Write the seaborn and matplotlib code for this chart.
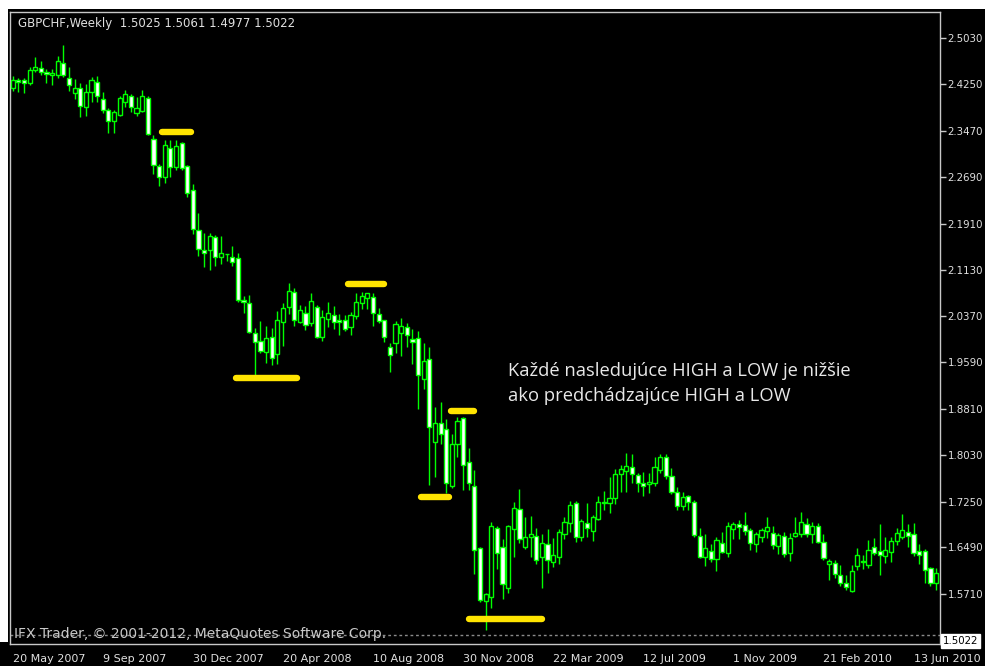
import numpy as np
import pandas as pd
import matplotlib
matplotlib.use("Agg")
import matplotlib.pyplot as plt
import seaborn as sns
from matplotlib.patches import Rectangle

# ---------------- data (weekly GBPCHF candles) ----------------
opens = [2.4186, 2.4325, 2.4325, 2.4280, 2.4493, 2.4526, 2.4459, 2.4409, 2.4409, 2.4610,
         2.4359, 2.4107, 2.4191, 2.3872, 2.4124, 2.4292, 2.4006, 2.3822, 2.3637, 2.3738,
         2.3956, 2.4057, 2.3772, 2.3805, 2.4023, 2.3336, 2.2883, 2.2698, 2.3185, 2.2866,
         2.3268, 2.2883, 2.2480, 2.1809, 2.1474, 2.1474, 2.1692, 2.1356, 2.1407, 2.1356,
         2.1340, 2.0635, 2.0585, 2.0082, 1.9947, 1.9763, 2.0015, 1.9729, 2.0266, 2.0518,
         2.0769, 2.0266, 2.0417, 2.0249, 2.0518, 2.0015, 2.0316, 2.0384, 2.0300, 2.0300,
         2.0182, 2.0367, 2.0585, 2.0669, 2.0685, 2.0400, 2.0300, 1.9847, 1.9914, 2.0082,
         2.0182, 1.9981, 1.9998, 1.9310, 1.9645, 1.8253, 1.8572, 1.8471, 1.7515, 1.8220,
         1.8656, 1.7918, 1.7515, 1.6475, 1.5586, 1.5654, 1.6811, 1.6492, 1.5805, 1.6794,
         1.7130, 1.6492, 1.6660, 1.6677, 1.6324, 1.6542, 1.6241, 1.6324, 1.6710, 1.6895,
         1.7230, 1.6660, 1.6895, 1.6761, 1.6962, 1.7247, 1.7230, 1.7314, 1.7717, 1.7767,
         1.7834, 1.7700, 1.7566, 1.7549, 1.7566, 1.7784, 1.8002, 1.7683, 1.7415, 1.7180,
         1.7348, 1.7247, 1.6677, 1.6324, 1.6425, 1.6291, 1.6559, 1.6391, 1.6794, 1.6878,
         1.6861, 1.6777, 1.6542, 1.6660, 1.6761, 1.6727, 1.6509, 1.6677, 1.6391, 1.6677,
         1.6710, 1.6878, 1.6710, 1.6844, 1.6576, 1.6207, 1.6224, 1.6022, 1.5888, 1.5754,
         1.6174, 1.6257, 1.6190, 1.6492, 1.6425, 1.6341, 1.6408, 1.6593, 1.6660, 1.6744,
         1.6710, 1.6425, 1.6425, 1.6140, 1.5888]
highs = [2.4392, 2.4364, 2.4359, 2.4543, 2.4711, 2.4644, 2.4510, 2.4510, 2.4728, 2.4912,
         2.4543, 2.4342, 2.4275, 2.4258, 2.4375, 2.4392, 2.4124, 2.3856, 2.3822, 2.4057,
         2.4158, 2.4090, 2.4040, 2.4158, 2.4057, 2.3403, 2.2916, 2.3319, 2.3319, 2.3319,
         2.3285, 2.2899, 2.2581, 2.2094, 2.1759, 2.1759, 2.1725, 2.1709, 2.1407, 2.1541,
         2.1423, 2.0702, 2.0719, 2.0165, 2.0283, 2.0199, 2.0165, 2.0451, 2.0585, 2.0920,
         2.0836, 2.0551, 2.0534, 2.0753, 2.0551, 2.0467, 2.0602, 2.0534, 2.0400, 2.0384,
         2.0434, 2.0753, 2.0769, 2.0753, 2.0753, 2.0501, 2.0300, 1.9914, 2.0283, 2.0333,
         2.0249, 2.0149, 2.0115, 1.9914, 1.9847, 1.8840, 1.8924, 1.8639, 1.8388, 1.8673,
         1.8673, 1.8153, 1.7784, 1.6492, 1.5721, 1.6912, 1.6844, 1.6626, 1.6861, 1.7247,
         1.7465, 1.6995, 1.7012, 1.6811, 1.6710, 1.6794, 1.6643, 1.6794, 1.6995, 1.7264,
         1.7264, 1.6962, 1.7230, 1.7029, 1.7348, 1.7431, 1.7666, 1.7800, 1.7868, 1.8069,
         1.8052, 1.7733, 1.7750, 1.7733, 1.8002, 1.8052, 1.8052, 1.7817, 1.7499, 1.7415,
         1.7364, 1.7281, 1.6811, 1.6710, 1.6542, 1.6660, 1.6744, 1.6912, 1.6912, 1.6945,
         1.7079, 1.6811, 1.6744, 1.6811, 1.6995, 1.6844, 1.6727, 1.6744, 1.6727, 1.6995,
         1.7079, 1.6979, 1.6912, 1.6895, 1.6710, 1.6291, 1.6274, 1.6190, 1.6022, 1.6190,
         1.6475, 1.6358, 1.6610, 1.6643, 1.6878, 1.6660, 1.6660, 1.6811, 1.7046, 1.6878,
         1.6895, 1.6542, 1.6459, 1.6157, 1.6140]
lows = [2.4146, 2.4129, 2.4107, 2.4241, 2.4459, 2.4409, 2.4275, 2.4241, 2.4359, 2.4375,
        2.4141, 2.4006, 2.3705, 2.3721, 2.3956, 2.3956, 2.3772, 2.3436, 2.3436, 2.3721,
        2.3872, 2.3788, 2.3721, 2.3788, 2.3403, 2.2749, 2.2547, 2.2598, 2.2698, 2.2816,
        2.2816, 2.2363, 2.1742, 2.1373, 2.1189, 2.1138, 2.1205, 2.1239, 2.1289, 2.1205,
        2.0602, 2.0417, 2.0082, 1.9344, 1.9746, 1.9578, 1.9545, 1.9562, 1.9864, 2.0400,
        2.0199, 2.0249, 2.0132, 2.0199, 1.9998, 1.9947, 2.0182, 2.0149, 2.0048, 2.0115,
        2.0048, 2.0316, 2.0484, 2.0484, 2.0199, 2.0249, 1.9931, 1.9427, 1.9746, 1.9696,
        1.9847, 1.9562, 1.8807, 1.9142, 1.7532, 1.7666, 1.8220, 1.7398, 1.7482, 1.8002,
        1.7448, 1.7448, 1.6039, 1.5570, 1.5100, 1.5469, 1.6123, 1.5620, 1.5721, 1.6324,
        1.6559, 1.6459, 1.6324, 1.6207, 1.5805, 1.6056, 1.6157, 1.6207, 1.6626, 1.6744,
        1.6576, 1.6593, 1.6660, 1.6593, 1.6945, 1.7113, 1.7063, 1.7213, 1.7415, 1.7415,
        1.7566, 1.7415, 1.7348, 1.7398, 1.7515, 1.7733, 1.7633, 1.7381, 1.7113, 1.7113,
        1.7113, 1.6660, 1.6310, 1.6174, 1.6241, 1.6090, 1.6391, 1.6324, 1.6626, 1.6626,
        1.6693, 1.6442, 1.6408, 1.6576, 1.6643, 1.6459, 1.6375, 1.6324, 1.6257, 1.6660,
        1.6660, 1.6660, 1.6559, 1.6559, 1.6274, 1.5939, 1.5972, 1.5838, 1.5771, 1.5737,
        1.6106, 1.6123, 1.6140, 1.6358, 1.6022, 1.6224, 1.6241, 1.6526, 1.6626, 1.6492,
        1.6341, 1.6207, 1.5888, 1.5838, 1.5771]
closes = [2.4325, 2.4287, 2.4270, 2.4493, 2.4543, 2.4459, 2.4426, 2.4443, 2.4644, 2.4409,
          2.4241, 2.4191, 2.3889, 2.4124, 2.4325, 2.4057, 2.3822, 2.3637, 2.3788, 2.4023,
          2.4090, 2.3872, 2.3856, 2.4057, 2.3419, 2.2899, 2.2698, 2.3235, 2.2866, 2.3218,
          2.2849, 2.2430, 2.1826, 2.1491, 2.1423, 2.1709, 2.1356, 2.1423, 2.1400, 2.1273,
          2.0635, 2.0602, 2.0098, 1.9931, 1.9780, 1.9998, 1.9662, 2.0300, 2.0501, 2.0786,
          2.0300, 2.0467, 2.0216, 2.0618, 2.0015, 2.0350, 2.0417, 2.0266, 2.0266, 2.0149,
          2.0384, 2.0602, 2.0702, 2.0753, 2.0417, 2.0283, 2.0015, 1.9713, 2.0233, 2.0199,
          2.0048, 1.9931, 1.9377, 1.9612, 1.8505, 1.8572, 1.8388, 1.7566, 1.8220, 1.8606,
          1.7868, 1.7566, 1.6442, 1.5603, 1.5704, 1.6844, 1.6391, 1.5872, 1.6844, 1.7146,
          1.6626, 1.6660, 1.6710, 1.6274, 1.6559, 1.6274, 1.6358, 1.6744, 1.6912, 1.7197,
          1.6660, 1.6928, 1.6811, 1.6995, 1.7247, 1.7230, 1.7314, 1.7717, 1.7800, 1.7851,
          1.7717, 1.7566, 1.7515, 1.7582, 1.7834, 1.8002, 1.7683, 1.7415, 1.7180, 1.7331,
          1.7247, 1.6693, 1.6324, 1.6475, 1.6291, 1.6610, 1.6408, 1.6844, 1.6878, 1.6828,
          1.6761, 1.6559, 1.6710, 1.6777, 1.6828, 1.6526, 1.6693, 1.6375, 1.6643, 1.6727,
          1.6912, 1.6710, 1.6844, 1.6576, 1.6308, 1.6257, 1.6039, 1.5888, 1.5821, 1.6090,
          1.6358, 1.6241, 1.6442, 1.6391, 1.6358, 1.6442, 1.6593, 1.6727, 1.6777, 1.6677,
          1.6391, 1.6358, 1.6106, 1.5888, 1.6056]

date_labels = ["20 May 2007", "9 Sep 2007", "30 Dec 2007", "20 Apr 2008", "10 Aug 2008",
               "30 Nov 2008", "22 Mar 2009", "12 Jul 2009", "1 Nov 2009", "21 Feb 2010",
               "13 Jun 2010"]
weeks_per_label = 16
price_ticks = [1.5710, 1.6490, 1.7250, 1.8030, 1.8810, 1.9590, 2.0370, 2.1130,
               2.1910, 2.2690, 2.3470, 2.4250, 2.5030]
last_price = 1.5022
header = "GBPCHF,Weekly  1.5025 1.5061 1.4977 1.5022"
copyright_txt = "IFX Trader, \u00a9 2001-2012, MetaQuotes Software Corp."
note_lines = ["Každé nasledujúce HIGH a LOW je nižšie", "ako predchádzajúce HIGH a LOW"]

# yellow hand-drawn markers: start bar, end bar, price level
mark_start = [26.6, 39.7, 59.6, 72.6, 77.8, 81.0]
mark_end = [31.6, 50.5, 66.0, 77.5, 81.9, 94.0]
mark_price = [2.3445, 1.9327, 2.0903, 1.7339, 1.8773, 1.5285]

df = pd.DataFrame({"open": opens, "high": highs, "low": lows, "close": closes})
df["bar"] = np.arange(len(df))
df["bull"] = df["close"] >= df["open"]

# ---------------- style ----------------
sns.set_theme(style="dark")
plt.rcParams["font.family"] = ["DejaVu Sans"]

W, H = 985, 666
fig = plt.figure(figsize=(W / 100, H / 100), dpi=100, facecolor="black")
ax = fig.add_axes([10 / W, 1 - 644 / H, 930 / W, 632 / H])
ax.set_facecolor("black")

LIME = "#00FF00"
GRAY = "#C8C8C8"

# wicks
ax.vlines(df["bar"], df["low"], df["high"], color=LIME, linewidth=1.0, zorder=2)
# bodies
body_bottom = np.minimum(df["open"], df["close"])
body_height = np.abs(df["close"] - df["open"])
body_height = np.maximum(body_height, 0.0004)
fills = np.where(df["bull"], "black", "white")
ax.bar(df["bar"], body_height, bottom=body_bottom, width=0.74, color=fills,
       edgecolor=LIME, linewidth=1.0, zorder=3)

# yellow markers
for s, e, p in zip(mark_start, mark_end, mark_price):
    ax.plot([s, e], [p, p], color="#FFE400", linewidth=4.6, solid_capstyle="round",
            zorder=5)

# current price dotted line
ax.axhline(last_price, color="#8A8A8A", linewidth=1.0, linestyle=(0, (2, 2)), zorder=1)

ax.set_xlim(-0.48, 164.7)
ax.set_ylim(1.4865, 2.5466)

# y axis on the right
ax.yaxis.tick_right()
ax.set_yticks(price_ticks)
ax.set_yticklabels([f"{v:.4f}" for v in price_ticks])
ax.tick_params(axis="y", which="both", direction="out", length=4, width=1,
               color=GRAY, labelcolor="#E0E0E0", labelsize=7.4, pad=1.5,
               left=False, right=True)

# x axis dates
ax.set_xticks([i * weeks_per_label for i in range(len(date_labels))])
ax.set_xticklabels(date_labels)
for lab in ax.get_xticklabels():
    lab.set_horizontalalignment("left")
ax.tick_params(axis="x", direction="out", length=5, width=1, color=GRAY,
               labelcolor="#E0E0E0", labelsize=8, pad=2)

for sp in ax.spines.values():
    sp.set_color(GRAY)
    sp.set_linewidth(1.0)
ax.grid(False)

# texts
fig.text(18 / W, 1 - 24 / H, header, color="#E0E0E0", fontsize=8.5, va="center", ha="left")
fig.text(14 / W, 1 - 634 / H, copyright_txt, color=GRAY, fontsize=10, va="center",
         ha="left", zorder=0)
ax.text(0.535, 1 - (371 - 12) / 632, note_lines[0], transform=ax.transAxes,
        color="#E8E8E8", fontsize=13.2, family=["Open Sans", "DejaVu Sans"],
        va="center", ha="left")
ax.text(0.535, 1 - (396 - 12) / 632, note_lines[1], transform=ax.transAxes,
        color="#E8E8E8", fontsize=13.2, family=["Open Sans", "DejaVu Sans"],
        va="center", ha="left")

# current price label box
fig.text(943 / W, 1 - 641 / H, f"{last_price:.4f}", color="black", fontsize=7.4,
         va="center", ha="left",
         bbox=dict(boxstyle="square,pad=0.2", facecolor="white", edgecolor="white"))

# window border strips
fig.add_artist(Rectangle((0, 1 - 9 / H), 1, 9 / H, transform=fig.transFigure,
                         facecolor="white", edgecolor="none", zorder=-1))
fig.add_artist(Rectangle((0, 1 - 642 / H), 8 / W, 642 / H, transform=fig.transFigure,
                         facecolor="white", edgecolor="none", zorder=-1))

fig.savefig("out.png", dpi=100, facecolor="black")
